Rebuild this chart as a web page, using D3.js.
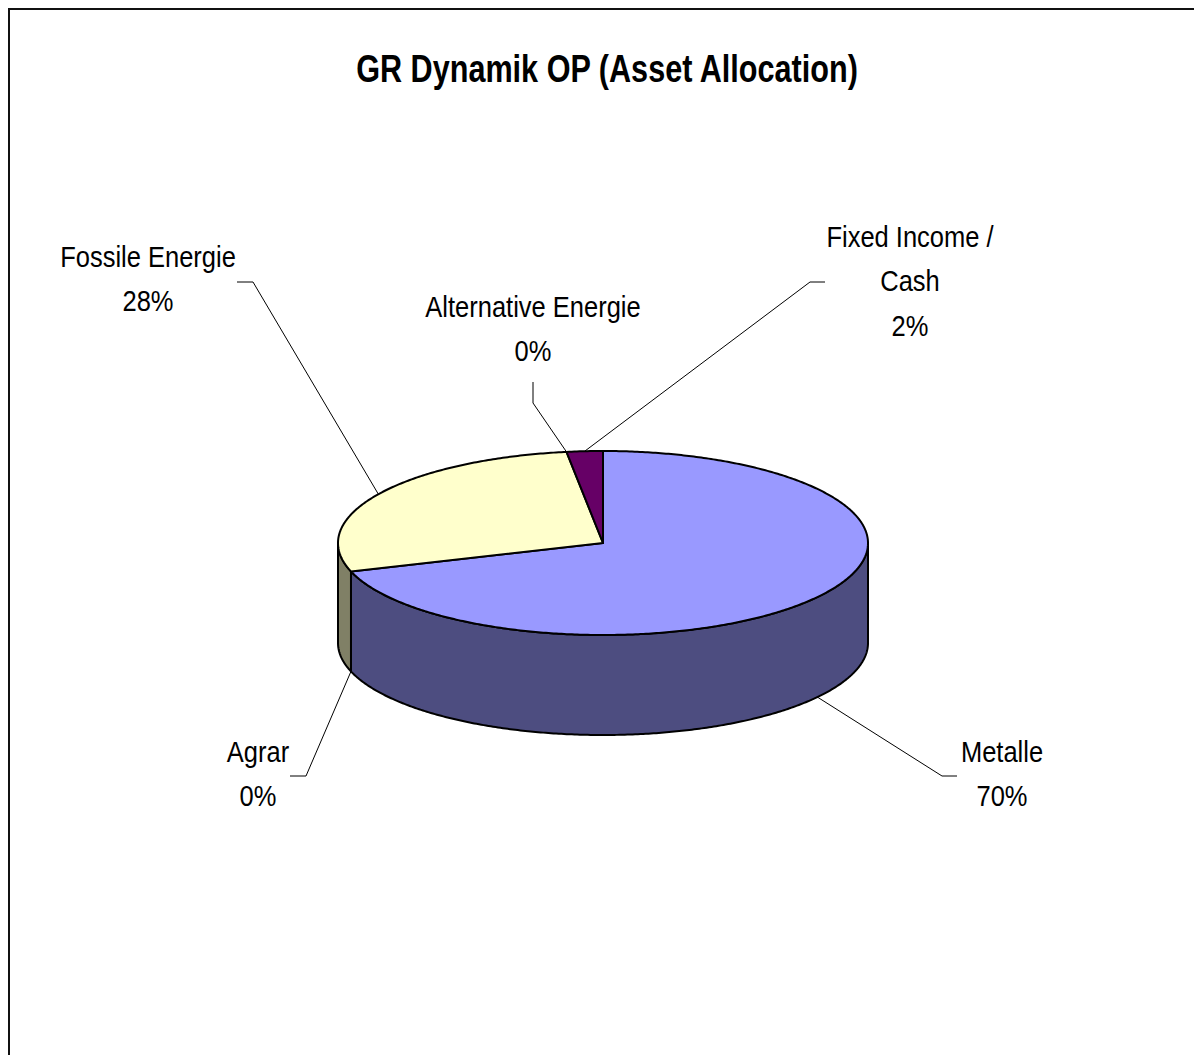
<!DOCTYPE html>
<html lang="de">
  <head>
    <title>GR Dynamik OP (Asset Allocation)</title>
    <meta charset="utf-8" />
    <script src="https://d3js.org/d3.v7.min.js"></script>
    <style>
      body { margin: 0; background: #ffffff; }
      text { font-family: "Liberation Sans", Arial, sans-serif; fill: #000; }
    </style>
  </head>
  <body>
    <svg width="1194" height="1055" xmlns="http://www.w3.org/2000/svg" id="target"></svg>
    <script>
        // data
        const categories = ["Metalle", "Agrar", "Fossile Energie", "Alternative Energie", "Fixed Income / Cash"];
        const values = [70.0, 0, 27.8, 0, 2.2];
        const colors = ["#9999ff", "#993366", "#ffffcc", "#ccffff", "#660066"];
        const title = "GR Dynamik OP (Asset Allocation)";

        // layout of the tilted pie
        const pie_def = { cx: 603, cy: 543, rx: 265, ry: 92, depth: 100 };
        // no narrow font installed -> squeeze horizontally
        const narrow = { title: 0.785, label: 0.85 };

        // label placement: centre x, first baseline, leader elbow (start -> bend)
        const label_def = [
          { x: 1002, y: 762, from: [957, 776], bend: [942, 776] },
          { x: 258,  y: 762, from: [290, 776], bend: [306, 776] },
          { x: 148,  y: 267, from: [237, 282], bend: [253, 282] },
          { x: 533,  y: 317, from: [533, 382], bend: [533, 403] },
          { x: 910,  y: 247, from: [825, 282], bend: [810, 282] }
        ];

        const svg = d3.select("#target");

        // chart frame (only top and left are inside the picture)
        svg.append("rect")
          .attr("x", 9).attr("y", 9)
          .attr("width", 1400).attr("height", 1400)
          .attr("fill", "none")
          .attr("stroke", "#111")
          .attr("stroke-width", 2);

        svg.append("g")
          .attr("transform", "translate(607,82) scale(" + narrow.title + ",1)")
          .append("text")
          .attr("x", 0).attr("y", 0)
          .attr("text-anchor", "middle")
          .attr("font-size", 39)
          .attr("font-weight", "bold")
          .text(title);

        const total = d3.sum(values);
        const rows = categories.map((c, i) => ({ name: c, value: values[i], color: colors[i], lab: label_def[i] }));
        const arcs = d3.pie().sort(null).value(d => d.value)(rows);

        const px = a => pie_def.cx + pie_def.rx * Math.sin(a);
        const py = a => pie_def.cy - pie_def.ry * Math.cos(a);
        const samples = (a0, a1) => {
          const n = Math.max(2, Math.ceil(Math.abs(a1 - a0) / 0.01));
          return d3.range(n + 1).map(k => a0 + (a1 - a0) * k / n);
        };
        const line = d3.line();
        const darker = c => { const r = d3.rgb(c); return d3.rgb(r.r * 0.5, r.g * 0.5, r.b * 0.5).toString(); };

        // outer walls, only the part facing the viewer
        const walls = arcs.map(a => {
          const s = Math.max(a.startAngle, Math.PI / 2);
          const e = Math.min(a.endAngle, 3 * Math.PI / 2);
          return { a, s, e };
        }).filter(w => w.e - w.s > 0.0001);

        svg.selectAll("path.wall")
          .data(walls)
          .enter()
          .append("path")
          .attr("class", "wall")
          .attr("d", w => {
            const top = samples(w.s, w.e).map(t => [px(t), py(t)]);
            const bot = samples(w.e, w.s).map(t => [px(t), py(t) + pie_def.depth]);
            return line(top.concat(bot)) + "Z";
          })
          .attr("fill", w => darker(w.a.data.color))
          .attr("stroke", "#000")
          .attr("stroke-width", 2)
          .attr("stroke-linejoin", "round");

        // top faces
        svg.selectAll("path.top")
          .data(arcs.filter(a => a.endAngle - a.startAngle > 0))
          .enter()
          .append("path")
          .attr("class", "top")
          .attr("d", a => {
            const pts = [[pie_def.cx, pie_def.cy]].concat(samples(a.startAngle, a.endAngle).map(t => [px(t), py(t)]));
            return line(pts) + "Z";
          })
          .attr("fill", a => a.data.color)
          .attr("stroke", "#000")
          .attr("stroke-width", 2)
          .attr("stroke-linejoin", "round");

        // leader lines
        const anchor = a => {
          const m = (a.startAngle + a.endAngle) / 2;
          const front = Math.cos(m) < 0;
          return [px(m), py(m) + (front ? pie_def.depth : 0)];
        };
        svg.selectAll("path.leader")
          .data(arcs)
          .enter()
          .append("path")
          .attr("class", "leader")
          .attr("d", a => line([a.data.lab.from, a.data.lab.bend, anchor(a)]))
          .attr("fill", "none")
          .attr("stroke", "#000")
          .attr("stroke-width", 1);

        // labels
        const lab = svg.selectAll("g.lab")
          .data(arcs)
          .enter()
          .append("g")
          .attr("class", "lab")
          .attr("transform", a => "translate(" + a.data.lab.x + "," + a.data.lab.y + ") scale(" + narrow.label + ",1)")
          .append("text")
          .attr("text-anchor", "middle")
          .attr("font-size", 30);
        lab.each(function(a) {
          const parts = a.data.name.split(" / ");
          const lines = parts.length > 1 ? [parts[0] + " /", parts[1]] : parts;
          lines.push(Math.round(a.data.value / total * 100) + "%");
          d3.select(this).selectAll("tspan")
            .data(lines)
            .enter()
            .append("tspan")
            .attr("x", 0)
            .attr("y", (d, i) => i * 44.5)
            .text(d => d);
        });
    </script>
  </body>
</html>
